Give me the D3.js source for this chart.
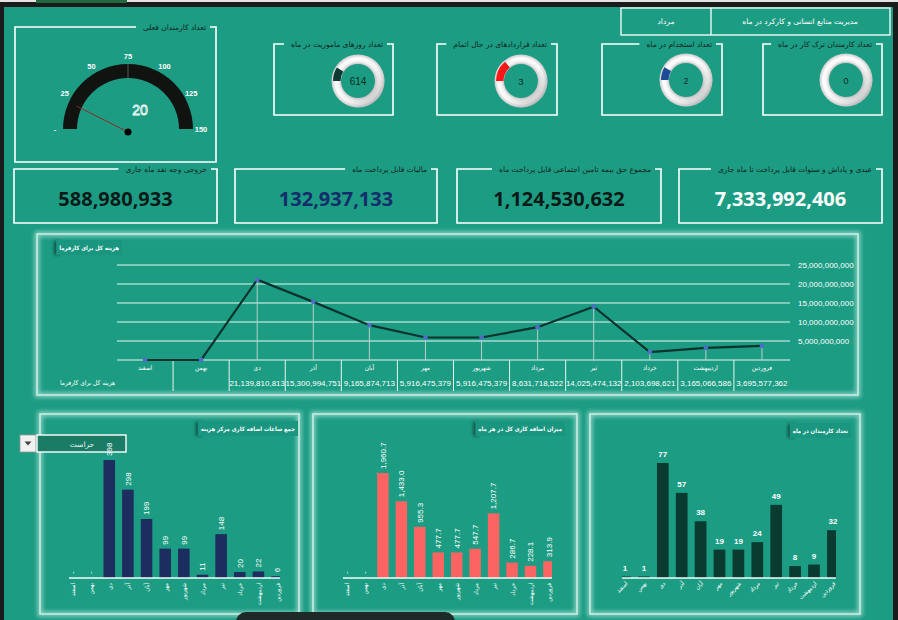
<!DOCTYPE html>
<html><head><meta charset="utf-8">
<script src="https://cdn.jsdelivr.net/npm/d3@7"></script>
<style>
html,body{margin:0;padding:0;background:#1b1b1b;overflow:hidden}
svg{display:block}
</style></head><body>
<svg id="c" width="898" height="620"></svg>
<script>
// ---------------- DATA ----------------
const months = ["اسفند","بهمن","دی","آذر","آبان","مهر","شهریور","مرداد","تیر","خرداد","اردیبهشت","فروردین"];
const totalCost = [0,0,21139810813,15300994751,9165874713,5916475379,5916475379,8631718522,14025474132,2103698621,3165066586,3695577362];
const costTicks = [5e9,10e9,15e9,20e9,25e9];
const overtimeCenter = [0,0,398,298,199,99,99,11,148,20,22,6];
const overtimeTotal = [0,0,1960.7,1433.0,955.3,477.7,477.7,547.7,1207.7,286.7,228.1,313.9];
const employees = [1,1,77,57,38,19,19,24,49,8,9,32];
const gaugeValue = 20;
const gaugeTicks = [0,25,50,75,100,125,150];
const donutTitles = ["تعداد روزهای ماموریت در ماه","تعداد قراردادهای در حال اتمام","تعداد استخدام در ماه","تعداد کارمندان ترک کار در ماه"];
const donutValues = [614,3,2,0];
const donutShare = [0.09,0.14,0.085,0];
const kpiTitles = ["خروجی وجه نقد ماه جاری","مالیات قابل پرداخت ماه","مجموع حق بیمه تامین اجتماعی قابل پرداخت ماه","عیدی و پاداش و سنوات قابل پرداخت تا ماه جاری"];
const kpiValues = [588980933,132937133,1124530632,7333992406];
const headerTexts = ["مدیریت منابع انسانی و کارکرد در ماه","مرداد"];
const gaugeTitle = "تعداد کارمندان فعلی";
const lineTitle = "هزینه کل برای کارفرما";
const chartTitles = ["جمع ساعات اضافه کاری مرکز هزینه","میزان اضافه کاری کل در هر ماه","تعداد کارمندان در ماه"];
const filterValue = "حراست";

// ---------------- SETUP ----------------
const FA = "DejaVu Sans, sans-serif";
const FAC = "DejaVu Sans Condensed, DejaVu Sans, sans-serif";
const svg = d3.select("#c");
const defs = svg.append("defs");
const blur = defs.append("filter").attr("id","blur").attr("x","-10%").attr("y","-10%").attr("width","120%").attr("height","120%");
blur.append("feGaussianBlur").attr("stdDeviation",2);
const blur1 = defs.append("filter").attr("id","blur1").attr("x","-50%").attr("y","-20%").attr("width","200%").attr("height","140%");
blur1.append("feGaussianBlur").attr("stdDeviation",1.5);

const rg = defs.append("radialGradient").attr("id","ringR").attr("cx","50%").attr("cy","50%").attr("r","50%");
rg.append("stop").attr("offset","0.62").attr("stop-color","#b8b8b8");
rg.append("stop").attr("offset","0.74").attr("stop-color","#f4f4f4");
rg.append("stop").attr("offset","0.86").attr("stop-color","#ffffff");
rg.append("stop").attr("offset","1").attr("stop-color","#c9c9c9");
const lg = defs.append("linearGradient").attr("id","ringL").attr("x1","0").attr("y1","0").attr("x2","1").attr("y2","1");
lg.append("stop").attr("offset","0.35").attr("stop-color","#ffffff").attr("stop-opacity",0);
lg.append("stop").attr("offset","1").attr("stop-color","#8a8a8a").attr("stop-opacity",0.75);

// background
svg.append("rect").attr("width",898).attr("height",620).attr("fill","#1b1b1b");
svg.append("rect").attr("x",0).attr("y",0).attr("width",898).attr("height",2).attr("fill","#e4e4e4");
svg.append("rect").attr("x",36).attr("y",0).attr("width",91).attr("height",3).attr("fill","#1f6b3f");
svg.append("rect").attr("x",4).attr("y",7).attr("width",889).attr("height",613).attr("fill","#1c9c83");

// bracket box
function bracketBox(x0,y0,x1,y1,title){
  const t = svg.append("text").attr("x",x1-10).attr("y",y0+3).attr("text-anchor","end")
    .attr("font-family",FA).attr("font-size",7.5).attr("fill","#0c2520").text(title);
  const w = t.node().getComputedTextLength();
  const gl = x1-10-w-7;
  svg.append("path").attr("d",`M${gl},${y0}H${x0}V${y1}H${x1}V${y0}H${x1-6}`)
    .attr("fill","none").attr("stroke","#ffffff").attr("stroke-width",1.6);
}

// ---------------- HEADER ----------------
svg.append("rect").attr("x",621).attr("y",8).attr("width",269).attr("height",27).attr("fill","none").attr("stroke","#fff").attr("stroke-width",1.3);
svg.append("line").attr("x1",711).attr("x2",711).attr("y1",8).attr("y2",35).attr("stroke","#fff").attr("stroke-width",1.3);
svg.append("text").attr("x",800).attr("y",24).attr("text-anchor","middle").attr("font-family",FA).attr("font-size",7.5).attr("fill","#fff").text(headerTexts[0]);
svg.append("text").attr("x",666).attr("y",24).attr("text-anchor","middle").attr("font-family",FA).attr("font-size",7.5).attr("fill","#fff").text(headerTexts[1]);

// ---------------- GAUGE ----------------
bracketBox(15,27,216,162,gaugeTitle);
const gc = [128,129];
const ga = d3.scaleLinear().domain([0,150]).range([-Math.PI/2, Math.PI/2]);
const gg = svg.append("g").attr("transform",`translate(${gc[0]},${gc[1]})`);
gg.append("path").attr("d",d3.arc()({innerRadius:51,outerRadius:65,startAngle:ga(0),endAngle:ga(150)})).attr("fill","#111311");
gg.append("line").attr("x1",0).attr("x2",0).attr("y1",-51).attr("y2",-65).attr("stroke","#4a5a55").attr("stroke-width",1);
gaugeTicks.forEach(t=>{
  const a = ga(t), r = 73;
  gg.append("text").attr("x",r*Math.sin(a)).attr("y",-r*Math.cos(a)+3)
    .attr("text-anchor","middle").attr("font-family","Liberation Sans, sans-serif").attr("font-weight","bold")
    .attr("font-size",7.5).attr("fill","#fff").text(t===0?"-":t);
});
const na = ga(gaugeValue);
gg.append("line").attr("x1",0).attr("y1",3).attr("x2",56*Math.sin(na)).attr("y2",-56*Math.cos(na)).attr("stroke","#8e2b25").attr("stroke-width",1);
gg.append("circle").attr("cx",0).attr("cy",3).attr("r",3.5).attr("fill","#000");
gg.append("text").attr("x",12).attr("y",-14).attr("text-anchor","middle").attr("font-family","Liberation Sans, sans-serif")
  .attr("font-size",14).attr("fill","none").attr("stroke","#fff").attr("stroke-width",0.8).text(gaugeValue);

// ---------------- DONUTS ----------------
const donutBoxes = [[274,393],[437,557],[602,722],[763,882]];
const donutCx = [358,521,686,846];
const donutCy = [81,81,80,80];
const donutColors = ["#0e3a32","#ff1616","#1f4a96","#888"];
donutBoxes.forEach((b,i)=>{
  bracketBox(b[0],44,b[1],115,donutTitles[i]);
  const g = svg.append("g").attr("transform",`translate(${donutCx[i]},${donutCy[i]})`);
  const ring = d3.arc()({innerRadius:17,outerRadius:26.5,startAngle:0,endAngle:2*Math.PI});
  g.append("path").attr("d",ring).attr("fill","url(#ringR)");
  g.append("path").attr("d",ring).attr("fill","url(#ringL)");
  if(donutShare[i]>0){
    g.append("path").attr("d",d3.arc()({innerRadius:17.5,outerRadius:25,startAngle:-Math.PI/2,endAngle:-Math.PI/2+donutShare[i]*2*Math.PI}))
      .attr("fill",donutColors[i]);
  }
  g.append("text").attr("x",0).attr("y",3.5).attr("text-anchor","middle").attr("font-family","Liberation Sans, sans-serif")
    .attr("font-size",i===0?10:9).attr("fill","#0d2b25").text(donutValues[i]);
});

// ---------------- KPI ----------------
const kpiBoxes = [[14,217],[235,437],[457,661],[679,882]];
const kpiColors = ["#0c1a17","#152d6b","#0c1a17","#ffffff"];
kpiBoxes.forEach((b,i)=>{
  bracketBox(b[0],169,b[1],223,kpiTitles[i]);
  svg.append("text").attr("x",(b[0]+b[1])/2).attr("y",206).attr("text-anchor","middle")
    .attr("font-family","Open Sans, sans-serif").attr("font-weight","bold").attr("font-size",20)
    .attr("fill",kpiColors[i]).text(d3.format(",")(kpiValues[i]));
});

// ---------------- PANELS ----------------
function glowPanel(x0,y0,x1,y1){
  svg.append("rect").attr("x",x0).attr("y",y0).attr("width",x1-x0).attr("height",y1-y0)
    .attr("fill","none").attr("stroke","#dffcf4").attr("stroke-width",5).attr("opacity",0.55).attr("filter","url(#blur)");
  svg.append("rect").attr("x",x0).attr("y",y0).attr("width",x1-x0).attr("height",y1-y0)
    .attr("fill","none").attr("stroke","#cdeee5").attr("stroke-width",1.5);
}
function chartTitle(xr, y, text){
  const g = svg.append("g");
  const sh = g.append("rect");
  const bg = g.append("rect");
  const t = g.append("text").attr("x",xr-3).attr("y",y+10).attr("text-anchor","end")
    .attr("font-family",FAC).attr("font-weight","bold").attr("font-size",5.9).attr("fill","#fff").text(text);
  const w = t.node().getComputedTextLength();
  const x0 = xr-w-6;
  sh.attr("x",x0-2).attr("y",y+1).attr("width",6).attr("height",14)
    .attr("fill","#0a3a31").attr("opacity",0.8).attr("filter","url(#blur1)");
  bg.attr("x",x0).attr("y",y).attr("width",xr-x0).attr("height",15).attr("fill","#1a9680");
}

// ---------------- LINE CHART ----------------
glowPanel(37,234,858,395);
chartTitle(122,240,lineTitle);
const lx = d3.scaleBand().domain(months).range([117,790]);
const ly = d3.scaleLinear().domain([0,25e9]).range([360,265]);
const cx = m => lx(m)+lx.bandwidth()/2;
costTicks.forEach(t=>{
  svg.append("line").attr("x1",117).attr("x2",790).attr("y1",ly(t)).attr("y2",ly(t)).attr("stroke","#e6f6f1").attr("stroke-width",1);
  svg.append("text").attr("x",798).attr("y",ly(t)+3).attr("font-family","Liberation Sans, sans-serif").attr("font-size",8)
    .attr("fill","#fff").text(d3.format(",")(t));
});
svg.append("line").attr("x1",117).attr("x2",790).attr("y1",ly(0)).attr("y2",ly(0)).attr("stroke","#e6f6f1").attr("stroke-width",1);
months.forEach((m,i)=>{
  svg.append("line").attr("x1",cx(m)).attr("x2",cx(m)).attr("y1",ly(totalCost[i])).attr("y2",ly(0)).attr("stroke","#b9cfc9").attr("stroke-width",1);
  if(i>0) svg.append("line").attr("x1",lx(m)).attr("x2",lx(m)).attr("y1",360).attr("y2",391).attr("stroke","#e6f6f1").attr("stroke-width",1);
  svg.append("text").attr("x",cx(m)).attr("y",370).attr("text-anchor","middle").attr("font-family",FAC).attr("font-size",6.5).attr("fill","#fff").text(m);
  if(totalCost[i]>0) svg.append("text").attr("x",cx(m)).attr("y",385.5).attr("text-anchor","middle").attr("font-family","Liberation Sans, sans-serif")
    .attr("font-size",8).attr("fill","#fff").text(d3.format(",")(totalCost[i]));
});
svg.append("text").attr("x",115).attr("y",385).attr("text-anchor","end").attr("font-family",FAC).attr("font-size",6.5).attr("fill","#fff").text(lineTitle);
svg.append("path").datum(months.map((m,i)=>[cx(m),ly(totalCost[i])]))
  .attr("d",d3.line()).attr("fill","none").attr("stroke","#0b332d").attr("stroke-width",2.2);
months.forEach((m,i)=>{
  svg.append("circle").attr("cx",cx(m)).attr("cy",ly(totalCost[i])).attr("r",2.4).attr("fill","#4a6fc4");
});

// ---------------- BAR CHARTS ----------------
function barChart(o){
  const step = o.step;
  const x = d3.scaleBand().domain(months).range([o.c0-step/2, o.c0-step/2+12*step]).paddingInner(0.38).paddingOuter(0.19);
  const y = d3.scaleLinear().domain([0,o.max]).range([o.base, o.base-o.h]);
  const cxx = m => x(m)+x.bandwidth()/2;
  const xl = cxx(months[0])-3, xr = cxx(months[11])+3;
  const cid = "clip"+o.id;
  defs.append("clipPath").attr("id",cid).append("rect").attr("x",xl).attr("y",o.base-200).attr("width",xr-xl).attr("height",200);
  const g = svg.append("g").attr("clip-path",`url(#${cid})`);
  months.forEach((m,i)=>{
    g.append("rect").attr("x",x(m)).attr("width",x.bandwidth()).attr("y",y(o.values[i])).attr("height",o.base-y(o.values[i])).attr("fill",o.color);
  });
  svg.append("line").attr("x1",xl).attr("x2",xr).attr("y1",o.base).attr("y2",o.base).attr("stroke","#f2fffb").attr("stroke-width",1.3);
  months.forEach((m,i)=>{
    const v = o.values[i], c = cxx(m);
    if(o.rotLabels){
      svg.append("text").attr("transform",`translate(${c+2.8},${y(v)-4}) rotate(-90)`).attr("font-family","Liberation Sans, sans-serif")
        .attr("font-size",8).attr("fill","#fff").text(v===0?"-":o.fmt(v));
    } else {
      svg.append("text").attr("x",c).attr("y",y(v)-6).attr("text-anchor","middle").attr("font-family","Liberation Sans, sans-serif")
        .attr("font-weight","bold").attr("font-size",8).attr("fill","#fff").text(o.fmt(v));
    }
    if(o.catRot===-90){
      svg.append("text").attr("transform",`translate(${c+2.5},${o.base+5}) rotate(-90)`).attr("text-anchor","end")
        .attr("font-family",FAC).attr("font-size",6).attr("fill","#fff").text(m);
    } else {
      svg.append("text").attr("transform",`translate(${c+3},${o.base+6}) rotate(-45)`).attr("text-anchor","end")
        .attr("font-family",FAC).attr("font-size",6).attr("fill","#fff").text(m);
    }
  });
}
glowPanel(40,414,299,614);
glowPanel(313,414,577,614);
glowPanel(590,414,860,614);

// dropdown (drawn beneath the chart labels)
svg.append("rect").attr("x",20).attr("y",435).attr("width",16).attr("height",17).attr("fill","#f1f1f1").attr("stroke","#9a9a9a").attr("stroke-width",0.8);
svg.append("path").attr("d","M24.5,441.5 L31.5,441.5 L28,445.5 Z").attr("fill","#444");
svg.append("rect").attr("x",37).attr("y",435).attr("width",89).attr("height",17).attr("fill","#1b7c66").attr("stroke","#fff").attr("stroke-width",1.4);
svg.append("text").attr("x",82).attr("y",446.5).attr("text-anchor","middle").attr("font-family",FA).attr("font-size",7.5).attr("fill","#e8f5f1").text(filterValue);

barChart({id:1,values:overtimeCenter,c0:72,step:18.64,base:578,max:450,h:133.4,color:"#1e2d5f",rotLabels:true,fmt:d3.format(",.0f"),catRot:-90});
barChart({id:2,values:overtimeTotal,c0:346,step:18.45,base:578,max:2400,h:128.5,color:"#fb6462",rotLabels:true,fmt:d3.format(",.1f"),catRot:-90});
barChart({id:3,values:employees,c0:625,step:18.9,base:578,max:90,h:134.4,color:"#0a3b31",rotLabels:false,fmt:d3.format("d"),catRot:-45});
chartTitle(298,421,chartTitles[0]);
chartTitle(565,421,chartTitles[1]);
chartTitle(851,423,chartTitles[2]);

// bottom dark shape
svg.append("rect").attr("x",236).attr("y",612).attr("width",219).attr("height",20).attr("rx",10).attr("fill","#1e2a27");
</script>
</body></html>
